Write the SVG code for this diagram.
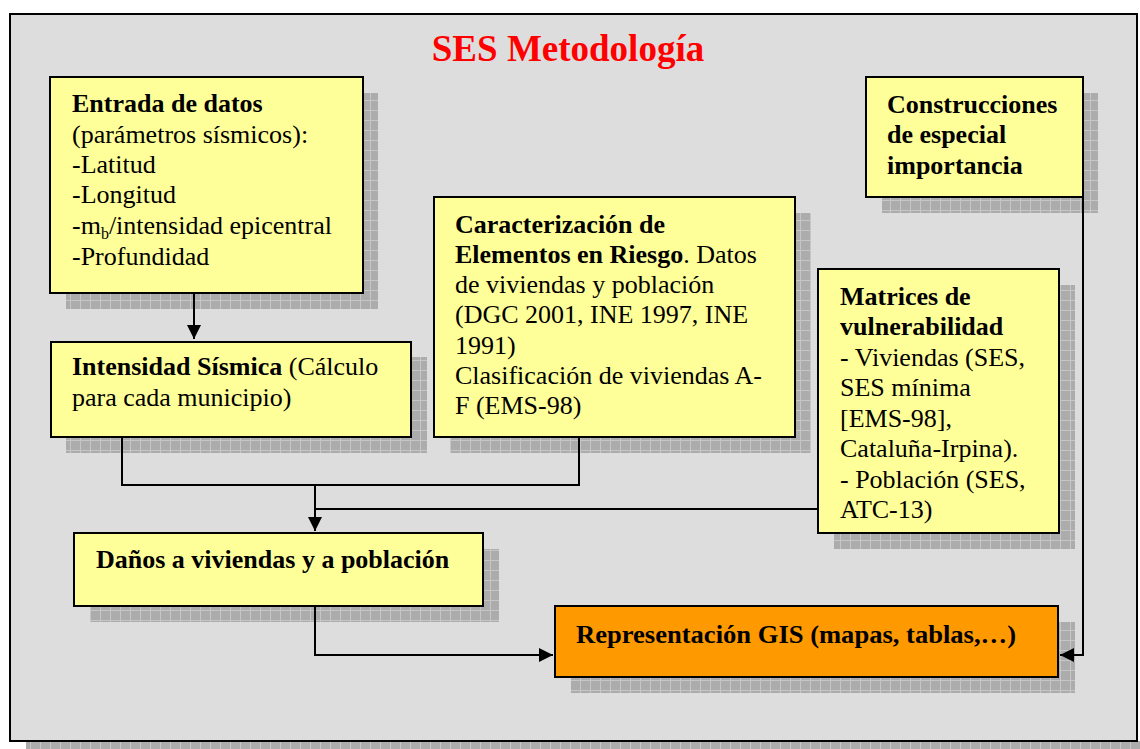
<svg xmlns="http://www.w3.org/2000/svg" width="1140" height="749" viewBox="0 0 1140 749">
<defs>
<pattern id="hatch" width="10" height="10" patternUnits="userSpaceOnUse">
<rect width="10" height="10" fill="#acacac"/>
<path d="M0 0.5H10M0.5 0V10" stroke="#c6c6c6" stroke-width="1"/>
</pattern>
<marker id="arr" viewBox="0 0 10 10" refX="10" refY="5" markerWidth="14" markerHeight="14" markerUnits="userSpaceOnUse" orient="auto">
<path d="M0 0L10 5L0 10Z" fill="#000"/>
</marker>
<style>
.sh{fill:url(#hatch)}
.box{fill:#ffff99;stroke:#000;stroke-width:2}
.or{fill:#ff9900;stroke:#000;stroke-width:2}
.t{font-family:"Liberation Serif","Times New Roman",serif;font-size:26px;fill:#000}
.b{font-weight:bold}
.c{fill:none;stroke:#000;stroke-width:2}
</style>
</defs>
<rect x="26" y="741" width="1114" height="8" class="sh"/>
<rect x="10" y="14" width="1127" height="727" fill="#dddddd" stroke="#000" stroke-width="2"/>
<text x="568" y="61" text-anchor="middle" font-family="'Liberation Serif','Times New Roman',serif" font-size="37" font-weight="bold" fill="#ff0000">SES Metodología</text>

<g id="entrada">
<rect x="66" y="93" width="312" height="216" class="sh"/>
<rect x="50" y="77" width="313" height="216" class="box"/>
<text class="t" x="72"><tspan x="72" y="112" class="b">Entrada de datos</tspan><tspan x="72" y="143">(parámetros sísmicos):</tspan><tspan x="72" y="173">-Latitud</tspan><tspan x="72" y="203">-Longitud</tspan><tspan x="72" y="234">-m<tspan font-size="16" dy="5">b</tspan><tspan dy="-5">/intensidad epicentral</tspan></tspan><tspan x="72" y="265">-Profundidad</tspan></text>
</g>

<g id="intensidad">
<rect x="66" y="357" width="361" height="96" class="sh"/>
<rect x="51" y="342" width="360" height="95" class="box"/>
<text class="t"><tspan x="72" y="375"><tspan class="b">Intensidad Sísmica</tspan> (Cálculo</tspan><tspan x="72" y="406">para cada municipio)</tspan></text>
</g>

<g id="caracterizacion">
<rect x="450" y="213" width="361" height="240" class="sh"/>
<rect x="434" y="197" width="361" height="240" class="box"/>
<text class="t"><tspan x="455" y="233" class="b">Caracterización de</tspan><tspan x="455" y="263"><tspan class="b">Elementos en Riesgo</tspan>. Datos</tspan><tspan x="455" y="293">de viviendas y población</tspan><tspan x="455" y="323">(DGC 2001, INE 1997, INE</tspan><tspan x="455" y="354">1991)</tspan><tspan x="455" y="384">Clasificación de viviendas A-</tspan><tspan x="455" y="414">F (EMS-98)</tspan></text>
</g>

<g id="construcciones">
<rect x="882" y="93" width="216" height="120" class="sh"/>
<rect x="866" y="77" width="217" height="120" class="box"/>
<text class="t b"><tspan x="887" y="113">Construcciones</tspan><tspan x="887" y="143">de especial</tspan><tspan x="887" y="174">importancia</tspan></text>
</g>

<g id="matrices">
<rect x="834" y="285" width="241" height="264" class="sh"/>
<rect x="818" y="269" width="241" height="264" class="box"/>
<text class="t"><tspan x="840" y="305" class="b">Matrices de</tspan><tspan x="840" y="335" class="b">vulnerabilidad</tspan><tspan x="840" y="366">- Viviendas (SES,</tspan><tspan x="840" y="396">SES mínima</tspan><tspan x="840" y="427">[EMS-98],</tspan><tspan x="840" y="457">Cataluña-Irpina).</tspan><tspan x="840" y="488">- Población (SES,</tspan><tspan x="840" y="518">ATC-13)</tspan></text>
</g>

<g id="danos">
<rect x="90" y="549" width="409" height="73" class="sh"/>
<rect x="74" y="533" width="409" height="73" class="box"/>
<text class="t b" x="96" y="568">Daños a viviendas y a población</text>
</g>

<g id="gis">
<rect x="571" y="622" width="504" height="71" class="sh"/>
<rect x="555" y="606" width="503" height="71" class="or"/>
<text class="t b" x="576" y="643" textLength="440" lengthAdjust="spacingAndGlyphs">Representación GIS (mapas, tablas,…)</text>
</g>

<g id="connectors">
<path class="c" d="M194 293V339" marker-end="url(#arr)"/>
<path class="c" d="M122 437V485H579V437"/>
<path class="c" d="M315 485V531" marker-end="url(#arr)"/>
<path class="c" d="M315 509H818"/>
<path class="c" d="M315 606V655H553" marker-end="url(#arr)"/>
<path class="c" d="M1083 197V655H1060" marker-end="url(#arr)"/>
</g>
</svg>
